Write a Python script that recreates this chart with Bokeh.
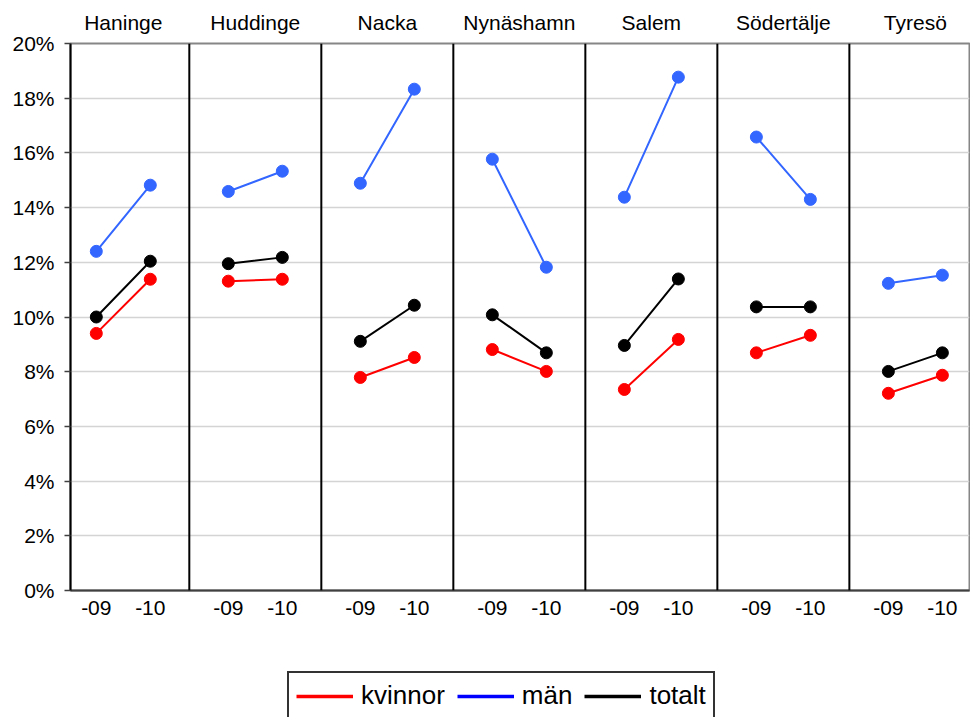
import math
from bokeh.plotting import figure
from bokeh.layouts import column
from bokeh.models import (Range1d, FixedTicker, LinearAxis, Span, Legend, LegendItem,
                          NumeralTickFormatter)
from bokeh.embed import file_html
from bokeh.resources import INLINE

# ---------------- data ----------------
kommuner = ["Haninge", "Huddinge", "Nacka", "Nynäshamn", "Salem", "Södertälje", "Tyresö"]
years = ["-09", "-10"]
kvinnor_09 = [9.40, 11.31, 7.79, 8.81, 7.35, 8.69, 7.21]
kvinnor_10 = [11.38, 11.38, 8.52, 8.01, 9.18, 9.33, 7.87]
man_09 = [12.40, 14.59, 14.89, 15.77, 14.38, 16.58, 11.23]
man_10 = [14.82, 15.33, 18.33, 11.82, 18.77, 14.30, 11.53]
totalt_09 = [10.00, 11.95, 9.11, 10.08, 8.96, 10.37, 8.01]
totalt_10 = [12.04, 12.18, 10.43, 8.69, 11.39, 10.37, 8.69]
y_ticks = [0.00, 0.02, 0.04, 0.06, 0.08, 0.10, 0.12, 0.14, 0.16, 0.18, 0.20]
series_names = ["kvinnor", "män", "totalt"]

# ---------------- layout helpers ----------------
OFF = 0.2045  # half distance between the two years inside a group (in group units)
FONT = "Liberation Sans"

p = figure(width=970, height=657, output_backend="svg", toolbar_location=None,
           x_range=Range1d(-0.4, 6.41), y_range=Range1d(0, 0.20),
           min_border_left=70, min_border_right=1, min_border_top=43, min_border_bottom=67,
           background_fill_color="white", border_fill_color="white")
p.outline_line_color = "#868686"
p.outline_line_width = 2
p.xgrid.visible = False
p.ygrid.ticker = FixedTicker(ticks=y_ticks)
p.ygrid.grid_line_color = "#d4d4d4"
p.ygrid.grid_line_width = 1.5

# y axis
p.yaxis.ticker = FixedTicker(ticks=y_ticks)
p.yaxis.formatter = NumeralTickFormatter(format="0%")
p.yaxis.major_label_text_font = FONT
p.yaxis.major_label_text_font_size = "21px"
p.yaxis.major_label_text_color = "black"
p.yaxis.axis_line_color = "black"
p.yaxis.axis_line_width = 2
p.yaxis.major_tick_in = 0
p.yaxis.major_tick_out = 6
p.yaxis.major_tick_line_color = "#404040"
p.yaxis.major_tick_line_width = 1.5
p.yaxis.minor_tick_line_color = None
p.yaxis.major_label_standoff = 10

# bottom axis with year labels
xticks = []
xlabels = {}
for i in range(len(kommuner)):
    for j, yr in enumerate(years):
        t = i + (-OFF if j == 0 else OFF)
        xticks.append(t)
        xlabels[t] = yr
p.xaxis.ticker = FixedTicker(ticks=xticks)
p.xaxis.major_label_overrides = xlabels
p.xaxis.major_label_text_font = FONT
p.xaxis.major_label_text_font_size = "21px"
p.xaxis.major_label_text_color = "black"
p.xaxis.axis_line_color = "#404040"
p.xaxis.axis_line_width = 2
p.xaxis.major_tick_line_color = None
p.xaxis.minor_tick_line_color = None
p.xaxis.major_label_standoff = 4

# top axis with municipality names
top = LinearAxis(ticker=FixedTicker(ticks=list(range(len(kommuner)))),
                 major_label_overrides={i: k for i, k in enumerate(kommuner)})
top.axis_line_color = None
top.major_tick_line_color = None
top.minor_tick_line_color = None
top.major_label_text_font = FONT
top.major_label_text_font_size = "21px"
top.major_label_text_color = "black"
top.major_label_standoff = 4
p.add_layout(top, "above")

# separators between groups
for i in range(len(kommuner) - 1):
    p.add_layout(Span(location=i + 0.5, dimension="height", line_color="black", line_width=2))

# legend strip (separate small figure below the chart)
leg = figure(width=970, height=60, output_backend="svg", toolbar_location=None,
             x_range=Range1d(0, 1), y_range=Range1d(0, 1),
             x_axis_type=None, y_axis_type=None,
             min_border_left=70, min_border_right=1, min_border_top=0, min_border_bottom=0,
             background_fill_color="white", border_fill_color="white")
leg.outline_line_color = None
leg.xgrid.visible = False
leg.ygrid.visible = False

# series
series = [
    (kvinnor_09, kvinnor_10, "#ff0000", "#ff0000"),
    (man_09, man_10, "#3366ff", "#0000ff"),
    (totalt_09, totalt_10, "#000000", "#000000"),
]
legend_items = []
for (v09, v10, col, legcol), name in zip(series, series_names):
    xs, ys, px, py = [], [], [], []
    for i in range(len(kommuner)):
        xs += [i - OFF, i + OFF, math.nan]
        ys += [v09[i] / 100, v10[i] / 100, math.nan]
        px += [i - OFF, i + OFF]
        py += [v09[i] / 100, v10[i] / 100]
    p.line(xs, ys, line_color=col, line_width=2)
    p.scatter(px, py, size=12, fill_color=col, line_color=col, marker="circle")
    # legend-only line (kept outside the visible range of the legend strip)
    dummy = leg.line([-5, -4], [-5, -5], line_color=legcol, line_width=3.5)
    legend_items.append(LegendItem(label=name, renderers=[dummy]))

legend = Legend(items=legend_items, orientation="horizontal", location=(217, -3),
                label_text_font=FONT, label_text_font_size="26px", label_text_color="black",
                glyph_width=57, glyph_height=20, label_standoff=8, spacing=12, padding=7,
                margin=0, border_line_color="#333333", border_line_width=2,
                border_line_alpha=1.0,
                background_fill_color="white", background_fill_alpha=1.0)
leg.add_layout(legend, "center")

layout = column(p, leg, spacing=0)
open("out.html", "w").write(file_html(layout, INLINE))
